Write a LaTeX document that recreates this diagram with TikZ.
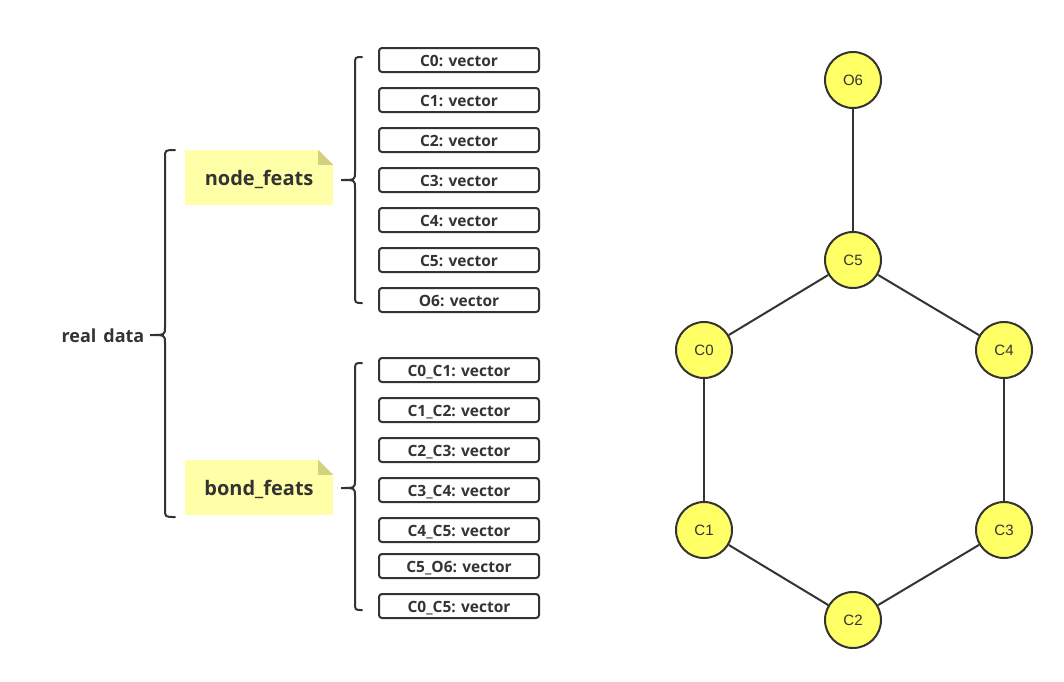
\documentclass[tikz,border=0pt]{standalone}
\usepackage{fontspec}
\setmainfont{Open Sans}
\newfontfamily\atomfont{Liberation Sans}
\definecolor{ink}{HTML}{333333}
\definecolor{note}{HTML}{FFFFA8}
\definecolor{fold}{HTML}{D2D27E}
\definecolor{atom}{HTML}{FFFF66}
\tikzset{
  vecbox/.style={draw=ink, line width=2pt, rounded corners=3pt, minimum width=160pt, minimum height=24pt, inner sep=0pt, text height=13pt, text depth=0pt, font=\fontsize{15.5}{17}\selectfont\bfseries, text=ink},
  notebox/.style={fill=note, minimum width=148pt, minimum height=55pt, inner sep=0pt, text height=16pt, text depth=1pt, font=\fontsize{20}{22}\selectfont\bfseries, text=ink},
  atomnode/.style={circle, draw=ink, line width=2pt, fill=atom, minimum size=56pt, inner sep=0pt, font=\atomfont\fontsize{15}{17}\selectfont, text=ink},
  bond/.style={draw=ink, line width=2pt},
  bracepath/.style={draw=ink, line width=2pt, line cap=round}
}
\begin{document}
\begin{tikzpicture}[x=1pt,y=-1pt]
\useasboundingbox (0,0) rectangle (1064,681);
% notes
\node[notebox] (nf) at (259,177.5) {node\_feats};
\node[notebox] (bf) at (259,487.5) {bond\_feats};
\foreach \n in {nf,bf}{
  \fill[white] ([xshift=-15pt]\n.north east) -- (\n.north east) -- ([yshift=-15pt]\n.north east) -- cycle;
  \fill[fold] ([xshift=-15pt]\n.north east) -- ([yshift=-15pt]\n.north east) -- ([xshift=-15pt,yshift=-15pt]\n.north east) -- cycle;
}
\node[font=\fontsize{18}{20}\selectfont\bfseries, text=ink, text height=15pt, text depth=1pt, inner sep=0pt] (rd) at (103,335) {real\hspace{7pt}data};
% node feature boxes
\node[vecbox] (n0) at (459,60) {C0: vector};
\node[vecbox] (n1) at (459,100) {C1: vector};
\node[vecbox] (n2) at (459,140) {C2: vector};
\node[vecbox] (n3) at (459,180) {C3: vector};
\node[vecbox] (n4) at (459,220) {C4: vector};
\node[vecbox] (n5) at (459,260) {C5: vector};
\node[vecbox] (n6) at (459,300) {O6: vector};
% bond feature boxes
\node[vecbox] (b0) at (459,370) {C0\_C1: vector};
\node[vecbox] (b1) at (459,410) {C1\_C2: vector};
\node[vecbox] (b2) at (459,450) {C2\_C3: vector};
\node[vecbox] (b3) at (459,490) {C3\_C4: vector};
\node[vecbox] (b4) at (459,530) {C4\_C5: vector};
\node[vecbox] (b5) at (459,566) {C5\_O6: vector};
\node[vecbox] (b6) at (459,606) {C0\_C5: vector};
% braces
\coordinate (t1) at (362,57); \coordinate (e1) at (362,303);
\coordinate (t2) at (362,363); \coordinate (e2) at (362,610);
\coordinate (t3) at (175,150); \coordinate (e3) at (175,517);
\draw[bracepath] (t1) .. controls (355,57) .. (355,65) -- (355,172) .. controls (355,180) .. (341,180) .. controls (355,180) .. (355,188) -- (355,295) .. controls (355,303) .. (e1);
\draw[bracepath] (t2) .. controls (355,363) .. (355,371) -- (355,480) .. controls (355,488) .. (341,488) .. controls (355,488) .. (355,496) -- (355,602) .. controls (355,610) .. (e2);
\draw[bracepath] (t3) .. controls (165,150) .. (165,158) -- (165,327) .. controls (165,335) .. (150,335) .. controls (165,335) .. (165,343) -- (165,509) .. controls (165,517) .. (e3);
% molecule
\node[atomnode] (O6) at (853,80) {O6};
\node[atomnode] (C5) at (853,260) {C5};
\node[atomnode] (C0) at (704,350) {C0};
\node[atomnode] (C4) at (1004,350) {C4};
\node[atomnode] (C1) at (704,530) {C1};
\node[atomnode] (C3) at (1004,530) {C3};
\node[atomnode] (C2) at (853,620) {C2};
\draw[bond] (O6) -- (C5);
\draw[bond] (C5) -- (C0);
\draw[bond] (C5) -- (C4);
\draw[bond] (C0) -- (C1);
\draw[bond] (C4) -- (C3);
\draw[bond] (C1) -- (C2);
\draw[bond] (C2) -- (C3);
\end{tikzpicture}
\end{document}
